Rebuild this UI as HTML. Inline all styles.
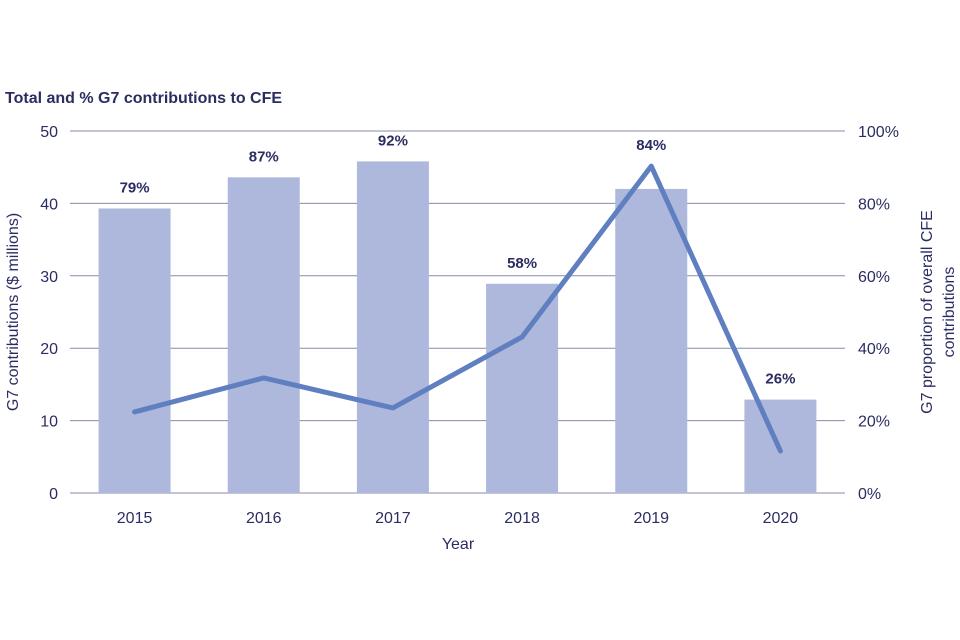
<!DOCTYPE html>
<html><head><meta charset="utf-8"><style>
body{margin:0;background:#fff;}
svg{display:block;font-family:"Liberation Sans",sans-serif;}
</style></head><body>
<svg id="chart" width="960" height="640">
<text x="5" y="103" font-size="16" font-weight="bold" fill="#2b2d62">Total and % G7 contributions to CFE</text>
<g id="grid"></g><g id="bars"></g><g id="line"></g><g id="labels"></g><g id="axes"></g>
<text transform="translate(18,312) rotate(-90)" text-anchor="middle" font-size="16" fill="#2b2d62">G7 contributions ($ millions)</text>
<text transform="translate(932,312) rotate(-90)" text-anchor="middle" font-size="16" fill="#2b2d62">G7 proportion of overall CFE</text>
<text transform="translate(954,312) rotate(-90)" text-anchor="middle" font-size="16" fill="#2b2d62">contributions</text>
<text x="458" y="549" text-anchor="middle" font-size="16" fill="#2b2d62">Year</text>
</svg>
<script>
const years=["2015","2016","2017","2018","2019","2020"];
const totals=[39.3,43.6,45.8,28.9,42.0,12.9];
const pctLabels=["79%","87%","92%","58%","84%","26%"];
const proportion=[22.4,31.8,23.5,43.1,90.3,11.6];
const leftTicks=[0,10,20,30,40,50];
const rightTicks=["0%","20%","40%","60%","80%","100%"];
const NS="http://www.w3.org/2000/svg";
const X0=70,X1=845,Y0=493,Y1=131;
const band=(X1-X0)/years.length;
const xc=i=>X0+band*(i+0.5);
const yL=v=>Y0-(v/50)*(Y0-Y1);
const yR=v=>Y0-(v/100)*(Y0-Y1);
function mk(tag,attrs,parent,text){const e=document.createElementNS(NS,tag);for(const k in attrs)e.setAttribute(k,attrs[k]);if(text!=null)e.textContent=text;document.getElementById(parent).appendChild(e);return e;}
leftTicks.forEach((t,i)=>{
 const y=yL(t);
 const g=mk("line",{x1:X0,x2:X1,y1:y,y2:y,stroke:"#8b8aab","stroke-width":1},"grid");
 
 
 const l=mk("text",{x:58,y:y+6,"text-anchor":"end","font-size":16,fill:"#2b2d62"},"axes",t);
 
 
 const r=mk("text",{x:858,y:y+6,"font-size":16,fill:"#2b2d62"},"axes",rightTicks[i]);
 
 
});
const bw=72;
years.forEach((yr,i)=>{
 const b=mk("rect",{x:xc(i)-bw/2,y:yL(totals[i]),width:bw,height:Y0-yL(totals[i]),fill:"#aeb8dc"},"bars");
 
 
 const top=Math.min(yL(totals[i]),yR(proportion[i]));
 const t=mk("text",{x:xc(i),y:top-16,"text-anchor":"middle","font-size":15,"font-weight":"bold",fill:"#2b2d62"},"labels",pctLabels[i]);
 
 
 const x=mk("text",{x:xc(i),y:523,"text-anchor":"middle","font-size":16,fill:"#2b2d62"},"axes",yr);
 
 
});
const pts=proportion.map((v,i)=>xc(i)+","+yR(v)).join(" ");
const pl=mk("polyline",{points:pts,fill:"none",stroke:"#5f7fc0","stroke-width":5,"stroke-linejoin":"round","stroke-linecap":"round"},"line");


</script>
</body></html>
